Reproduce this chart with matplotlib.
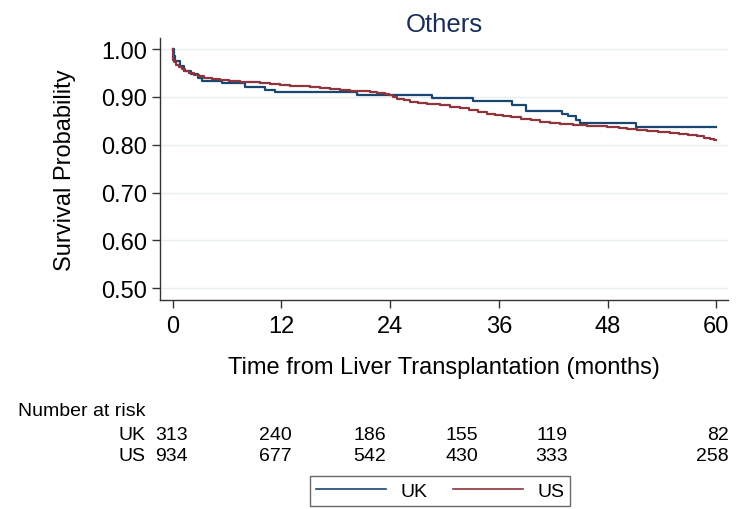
import matplotlib
matplotlib.use("Agg")
import matplotlib.pyplot as plt
from matplotlib.lines import Line2D

plt.rcParams['font.family'] = ['Liberation Sans', 'DejaVu Sans']

# ---- data ----
title = "Others"
uk_t = [0, 0.1, 0.3, 0.8, 1.3, 2.0, 2.8, 3.2, 5.4, 8.0, 10.2, 11.3, 20.3, 28.6,
        33.1, 37.5, 39.0, 43.0, 43.6, 44.5, 45.0, 51.1, 60]
uk_s = [1.00, 0.985, 0.975, 0.965, 0.955, 0.947, 0.940, 0.934, 0.928, 0.921, 0.915,
        0.910, 0.904, 0.898, 0.892, 0.882, 0.870, 0.864, 0.859, 0.852, 0.846, 0.837, 0.837]

us_t = [0, 0.05, 0.2, 0.4, 0.7, 1.0, 1.4, 1.8, 2.3, 2.9, 3.5, 4.3, 5.2, 6.2, 7.4,
        8.5, 9.6, 10.7, 11.8, 12.9, 14.0, 15.2, 16.3, 17.4, 18.5, 19.6, 20.7, 21.8,
        22.6, 23.4, 23.9, 24.3, 24.8, 25.5, 26.2, 27.1, 28.1, 29.5, 30.6, 31.7, 32.7,
        33.7, 34.7, 35.6, 36.5, 37.4, 38.4, 39.5, 40.6, 41.7, 42.8, 44.2, 45.7, 47.9,
        49.3, 50.2, 51.2, 52.4, 53.6, 54.9, 55.9, 56.9, 57.9, 58.6, 59.3, 59.8, 60]
us_s = [1.00, 0.978, 0.972, 0.967, 0.963, 0.959, 0.954, 0.950, 0.946, 0.943, 0.940,
        0.937, 0.935, 0.933, 0.931, 0.930, 0.929, 0.927, 0.925, 0.923, 0.922, 0.921,
        0.919, 0.917, 0.915, 0.913, 0.912, 0.910, 0.908, 0.906, 0.903, 0.899, 0.896,
        0.893, 0.890, 0.888, 0.885, 0.882, 0.879, 0.876, 0.873, 0.869, 0.865, 0.863,
        0.861, 0.858, 0.854, 0.851, 0.848, 0.845, 0.843, 0.841, 0.840, 0.837, 0.835,
        0.833, 0.830, 0.828, 0.826, 0.824, 0.822, 0.820, 0.818, 0.815, 0.812, 0.810, 0.810]

x_ticks = [0, 12, 24, 36, 48, 60]
y_ticks = [0.50, 0.60, 0.70, 0.80, 0.90, 1.00]
groups = ["UK", "US"]
risk_uk = [313, 240, 186, 155, 119, 82]
risk_us = [934, 677, 542, 430, 333, 258]

# ---- styling ----
uk_col = "#1a476f"
us_col = "#90353b"
grid_col = "#e8eff2"
axis_col = "#333333"

fig = plt.figure(figsize=(7.4, 5.1), dpi=100)
ax = fig.add_axes([160/740, 1 - 300.7/510, (728-160)/740, (300.7-39)/510])

ax.step(uk_t, uk_s, where='post', color=uk_col, lw=1.6)
ax.step(us_t, us_s, where='post', color=us_col, lw=1.6)

ax.set_xlim(-1.4, 61.3)
ax.set_ylim(0.476, 1.023)
ax.set_xticks(x_ticks)
ax.set_yticks(y_ticks)
ax.set_yticklabels([f"{v:.2f}" for v in y_ticks])
for y in y_ticks:
    ax.axhline(y, color=grid_col, lw=1.0, zorder=0)

for s in ['top', 'right']:
    ax.spines[s].set_visible(False)
for s in ['left', 'bottom']:
    ax.spines[s].set_color(axis_col)
    ax.spines[s].set_linewidth(1.0)
ax.tick_params(axis='both', colors=axis_col, labelcolor='black', labelsize=17,
               length=6, width=1.0, direction='out')
ax.tick_params(axis='x', pad=5)
ax.tick_params(axis='y', pad=3)

ax.set_ylabel("Survival Probability", fontsize=17, labelpad=18)
ax.set_xlabel("Time from Liver Transplantation (months)", fontsize=17, labelpad=14)
ax.set_title(title, fontsize=18.5, color="#1a2e5a", pad=5)

# ---- number at risk table ----
fs_tab = 14
fig.text(18/740, 1 - 411/510, "Number at risk", fontsize=fs_tab, va='center', ha='left')
col_right = [188, 292, 386, 478, 568, 729]
row_y = [436, 457]
for g, counts, ry in zip(groups, [risk_uk, risk_us], row_y):
    fig.text(146/740, 1 - ry/510, g, fontsize=fs_tab, va='center', ha='right')
    for xr, c in zip(col_right, counts):
        fig.text(xr/740, 1 - ry/510, str(c), fontsize=fs_tab, va='center', ha='right')

# ---- legend ----
handles = [Line2D([], [], color=uk_col, lw=1.2), Line2D([], [], color=us_col, lw=1.2)]
leg = fig.legend(handles, groups, loc='center', bbox_to_anchor=(440/740, 1 - 492/510),
                 ncol=2, frameon=True, fancybox=False, fontsize=fs_tab, handlelength=3.6,
                 columnspacing=1.3, handletextpad=0.75, borderpad=0.3,
                 borderaxespad=0)
leg.get_frame().set_edgecolor("#444444")
leg.get_frame().set_linewidth(1.0)

fig.savefig("out.png", dpi=100)
